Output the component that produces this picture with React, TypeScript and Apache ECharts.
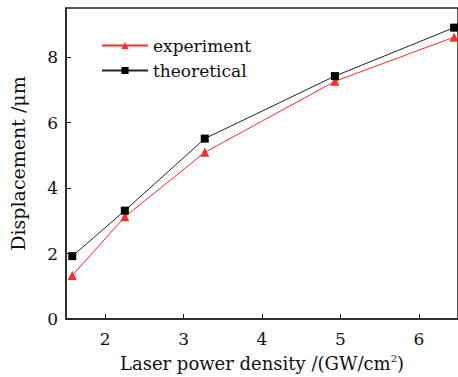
import React, { useEffect, useRef } from "react";
import * as echarts from "echarts";

const powerDensity = [1.58, 2.25, 3.27, 4.93, 6.45];
const experiment = [1.33, 3.12, 5.09, 7.26, 8.61];
const theoretical = [1.92, 3.31, 5.51, 7.42, 8.9];
const xTicks = [2, 3, 4, 5, 6];
const yTicks = [0, 2, 4, 6, 8];

const FONT = "DejaVu Serif";

export default function App() {
  const ref = useRef<HTMLDivElement>(null);
  useEffect(() => {
    if (!ref.current) return;
    const chart = echarts.init(ref.current, undefined, { renderer: "svg" });
    chart.setOption({
      animation: false,
      backgroundColor: "#ffffff",
      textStyle: { fontFamily: FONT, color: "#111" },
      grid: { left: 65, top: 8, width: 394, height: 319, show: true, borderColor: "#222", borderWidth: 1.5 },
      legend: {
        orient: "vertical",
        left: 101,
        top: 37,
        padding: 0,
        itemWidth: 46,
        itemHeight: 9,
        itemGap: 8,
        textStyle: { fontFamily: FONT, fontSize: 17, color: "#111" },
        data: ["experiment", "theoretical"],
      },
      xAxis: {
        type: "value",
        min: 1.5,
        max: 6.5,
        interval: 0.5,
        name: "Laser power density /(GW/cm{sup|2})",
        nameLocation: "middle",
        nameGap: 34,
        nameTextStyle: {
          fontFamily: FONT,
          fontSize: 18,
          color: "#111",
          rich: { sup: { fontFamily: FONT, fontSize: 10, verticalAlign: "top", padding: [0, 0, 10, 0] } },
        },
        splitLine: { show: false },
        axisLine: { lineStyle: { color: "#222", width: 1.5 } },
        axisTick: {
          inside: true,
          length: 5,
          lineStyle: { color: "#222" },
          customValues: xTicks,
        },
        axisLabel: {
          fontFamily: FONT,
          fontSize: 17,
          color: "#111",
          margin: 11,
          customValues: xTicks,
        },
      },
      yAxis: {
        type: "value",
        min: 0,
        max: 9.5,
        interval: 2,
        name: "Displacement /μm",
        nameLocation: "middle",
        nameGap: 39,
        nameTextStyle: { fontFamily: FONT, fontSize: 19, color: "#111" },
        splitLine: { show: false },
        axisLine: { lineStyle: { color: "#222", width: 1.5 } },
        axisTick: { inside: true, length: 5, lineStyle: { color: "#222" }, customValues: yTicks },
        axisLabel: { fontFamily: FONT, fontSize: 17, color: "#111", margin: 8, customValues: yTicks },
      },
      series: [
        {
          name: "experiment",
          type: "line",
          data: powerDensity.map((x, i) => [x, experiment[i]]),
          symbol: "triangle",
          symbolSize: 9,
          color: "#ff2a2a",
          lineStyle: { width: 1, color: "#ff2a2a" },
          itemStyle: { color: "#ff2a2a" },
        },
        {
          name: "theoretical",
          type: "line",
          data: powerDensity.map((x, i) => [x, theoretical[i]]),
          symbol: "rect",
          symbolSize: 8,
          color: "#000",
          lineStyle: { width: 1, color: "#222" },
          itemStyle: { color: "#000" },
        },
      ],
    });
    return () => chart.dispose();
  }, []);
  return <div ref={ref} style={{ position: "fixed", left: 0, top: 0, width: 458, height: 377 }} />;
}
